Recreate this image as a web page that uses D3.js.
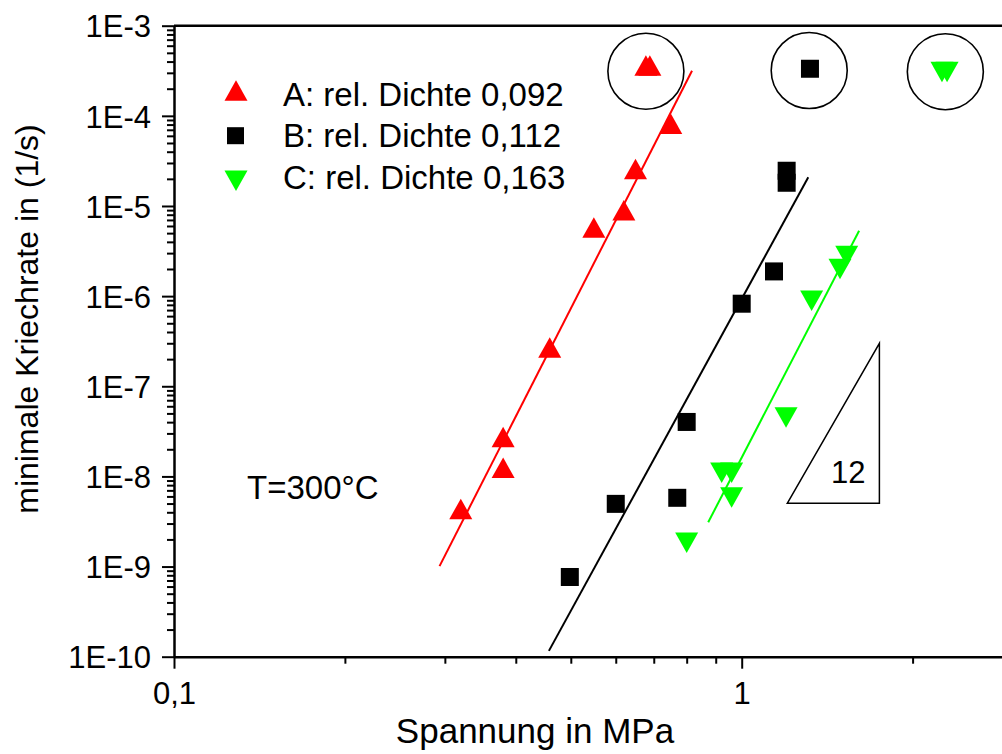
<!DOCTYPE html>
<html>
<head>
<meta charset="utf-8">
<script src="https://cdn.jsdelivr.net/npm/d3@7"></script>
<style>
  body { margin: 0; background: #fff; }
  svg { display: block; font-family: "Liberation Sans", Arial, sans-serif; }
</style>
</head>
<body>
<div class="chart"></div>
<script>
// series A: rel. Dichte 0,092 (stress MPa, creep rate 1/s)
const seriesA = [
  [0.320, 3.99e-9], [0.380, 1.14e-8], [0.380, 2.51e-8], [0.459, 2.47e-7],
  [0.549, 5.29e-6], [0.620, 8.21e-6], [0.650, 2.36e-5], [0.750, 7.50e-5],
  [0.678, 3.32e-4], [0.689, 3.32e-4]
];
// series B: rel. Dichte 0,112
const seriesB = [
  [0.498, 7.66e-10], [0.600, 4.96e-9], [0.770, 5.79e-9], [0.800, 4.02e-8],
  [1.000, 8.24e-7], [1.140, 1.88e-6], [1.200, 1.81e-5], [1.200, 2.46e-5],
  [1.319, 3.33e-4]
];
// series C: rel. Dichte 0,163
const seriesC = [
  [0.800, 2.01e-9], [0.960, 6.37e-9], [0.922, 1.20e-8], [0.960, 1.20e-8],
  [1.197, 4.91e-8], [1.328, 9.68e-7], [1.490, 2.18e-6], [1.531, 3.05e-6],
  [2.253, 3.34e-4], [2.300, 3.34e-4]
];
// fitted lines (end points)
const fitA = [[0.2936, 1.01e-9], [0.8175, 3.17e-4]];
const fitB = [[0.4575, 1.16e-10], [1.31, 2.08e-5]];
const fitC = [[0.873, 3.10e-9], [1.61, 5.32e-6]];
// circled outliers
const circled = [[0.678, 3.12e-4], [1.315, 3.18e-4], [2.284, 3.09e-4]];
// slope triangle
const slopeTri = [[1.203, 5.03e-9], [1.748, 3.0e-7], [1.748, 5.03e-9]];
const slopeLabel = "12";

const legendLabels = ["A: rel. Dichte 0,092", "B: rel. Dichte 0,112", "C: rel. Dichte 0,163"];
const xMajorTicks = [0.1, 1];
const xTickLabels = ["0,1", "1"];
const xMinorTicks = [0.2, 0.3, 0.4, 0.5, 0.6, 0.7, 0.8, 0.9, 2, 3];
const yMajorTicks = [1e-10, 1e-9, 1e-8, 1e-7, 1e-6, 1e-5, 1e-4, 1e-3];
const yTickLabels = ["1E-10", "1E-9", "1E-8", "1E-7", "1E-6", "1E-5", "1E-4", "1E-3"];
const yMinorTicks = [];
yMajorTicks.slice(0, -1).forEach(d => { for (let k = 2; k <= 9; k++) yMinorTicks.push(d * k); });

const W = 1002, H = 754;
const margin = {top: 25.7, left: 174};
const decX = 567.7;           // px per decade on x
const width = decX * Math.log10(30);
const height = 631;

const svg = d3.select(".chart").append("svg")
  .attr("width", W).attr("height", H);

const g = svg.append("g")
  .attr("transform", `translate(${margin.left},${margin.top})`);

const x = d3.scaleLog().domain([0.1, 3]).range([0, width]);
const y = d3.scaleLog().domain([1e-10, 1e-3]).range([height, 0]);

/* minor ticks */
g.append("g")
  .attr("transform", `translate(0,${height})`)
  .call(d3.axisBottom(x).tickValues(xMinorTicks).tickSize(7).tickFormat(""))
  .call(a => a.select(".domain").remove())
  .selectAll("line").attr("stroke-width", 2);

g.append("g")
  .call(d3.axisLeft(y).tickValues(yMinorTicks).tickSize(7).tickFormat(""))
  .call(a => a.select(".domain").remove())
  .selectAll("line").attr("stroke-width", 2);

/* major ticks + labels */
const xAxis = g.append("g")
  .attr("transform", `translate(0,${height})`)
  .call(d3.axisBottom(x).tickValues(xMajorTicks).tickSize(12).tickSizeOuter(0)
    .tickFormat((d, i) => xTickLabels[i]));
xAxis.selectAll("text").attr("font-size", 31).attr("dy", "1.05em").attr("fill", "#000")
  .attr("font-family", "Liberation Sans, Arial, sans-serif");

const yAxis = g.append("g")
  .call(d3.axisLeft(y).tickValues(yMajorTicks).tickSize(12).tickSizeOuter(0)
    .tickFormat((d, i) => yTickLabels[i]));
yAxis.selectAll("text").attr("font-size", 31).attr("x", -23).attr("dy", "0.36em").attr("fill", "#000")
  .attr("font-family", "Liberation Sans, Arial, sans-serif");

[xAxis, yAxis].forEach(a => {
  a.select(".domain").attr("stroke-width", 2.5);
  a.selectAll("line").attr("stroke-width", 2);
});

/* top frame */
g.append("line")
  .attr("x1", 0).attr("x2", width).attr("y1", 0).attr("y2", 0)
  .attr("stroke", "#000").attr("stroke-width", 2.5);

/* axis titles */
svg.append("text")
  .attr("x", 535).attr("y", 743)
  .attr("text-anchor", "middle").attr("font-size", 35)
  .text("Spannung in MPa");

svg.append("text")
  .attr("transform", "translate(38,319) rotate(-90)")
  .attr("text-anchor", "middle").attr("font-size", 32)
  .text("minimale Kriechrate in (1/s)");

/* fit lines */
const line = d3.line().x(d => x(d[0])).y(d => y(d[1]));
[[fitA, "#ff0000"], [fitB, "#000000"], [fitC, "#00ff00"]].forEach(([d, c]) => {
  g.append("path").datum(d).attr("d", line)
    .attr("fill", "none").attr("stroke", c).attr("stroke-width", 2);
});

/* markers: triangles centered on centroid */
const triUp = "M0,-13.7L11.5,6.8L-11.5,6.8Z";
const triDown = "M0,13.7L11.5,-6.8L-11.5,-6.8Z";

g.append("g").selectAll("path").data(seriesA).join("path")
  .attr("transform", d => `translate(${x(d[0])},${y(d[1])})`)
  .attr("d", triUp).attr("fill", "#ff0000");

g.append("g").selectAll("rect").data(seriesB).join("rect")
  .attr("x", d => x(d[0]) - 9).attr("y", d => y(d[1]) - 9)
  .attr("width", 18).attr("height", 18).attr("fill", "#000");

g.append("g").selectAll("path").data(seriesC).join("path")
  .attr("transform", d => `translate(${x(d[0])},${y(d[1])})`)
  .attr("d", triDown).attr("fill", "#00ff00");

/* circles around outliers */
g.append("g").selectAll("circle").data(circled).join("circle")
  .attr("cx", d => x(d[0])).attr("cy", d => y(d[1])).attr("r", 38)
  .attr("fill", "none").attr("stroke", "#000").attr("stroke-width", 1.6);

/* slope triangle */
g.append("path").datum(slopeTri)
  .attr("d", d => line(d) + "Z")
  .attr("fill", "none").attr("stroke", "#000").attr("stroke-width", 1.5);
g.append("text")
  .attr("x", x(1.54)).attr("y", y(8.5e-9))
  .attr("text-anchor", "middle").attr("font-size", 31)
  .text(slopeLabel);

/* temperature note */
svg.append("text")
  .attr("x", 247).attr("y", 499).attr("font-size", 33)
  .text("T=300°C");

/* legend */
const legend = svg.append("g");
const legendMarks = [triUp, null, triDown];
const legendColors = ["#ff0000", "#000000", "#00ff00"];
legendLabels.forEach((lab, i) => {
  const cy = 94 + i * 41.7;
  if (legendMarks[i]) {
    legend.append("path").attr("transform", `translate(236,${cy})`)
      .attr("d", legendMarks[i]).attr("fill", legendColors[i]);
  } else {
    legend.append("rect").attr("x", 227).attr("y", cy - 8.5)
      .attr("width", 17).attr("height", 17).attr("fill", legendColors[i]);
  }
  legend.append("text").attr("x", 283).attr("y", cy + 11.5)
    .attr("font-size", 33).text(lab);
});
</script>
</body>
</html>
